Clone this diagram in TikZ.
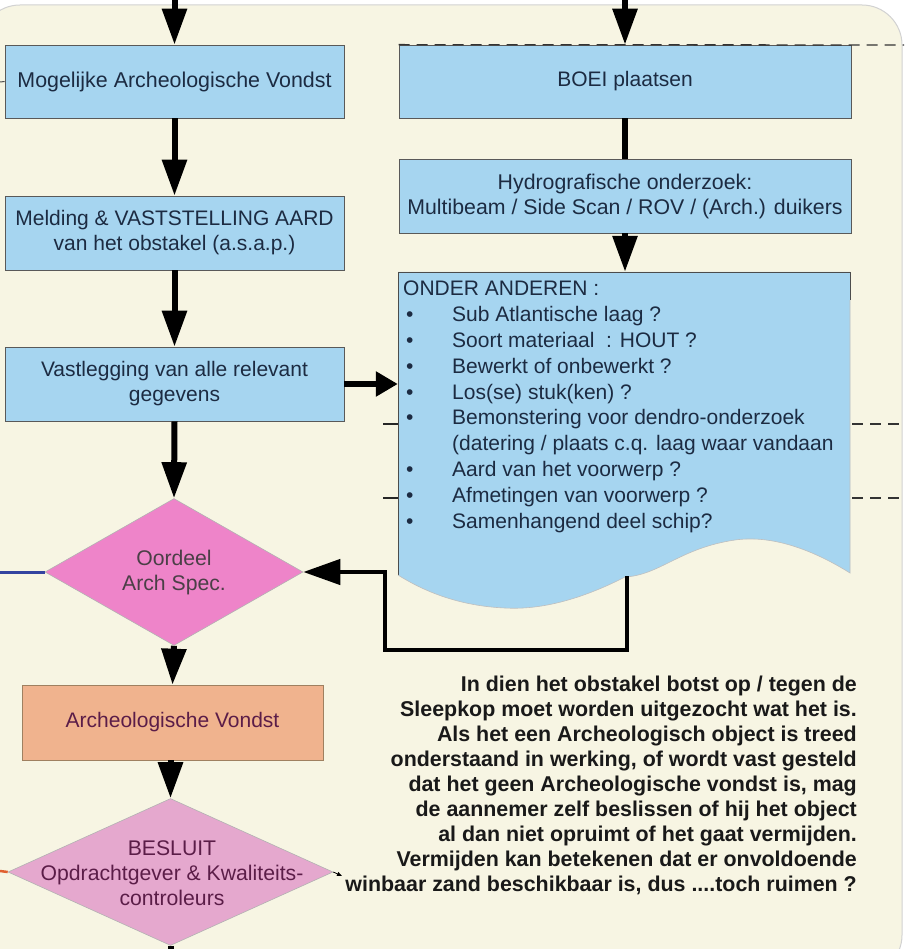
\documentclass[tikz,border=0pt]{standalone}
\usepackage{fontspec}
\setmainfont{Liberation Sans}
\usetikzlibrary{shapes.geometric,arrows.meta}
\definecolor{cream}{HTML}{F7F5E3}
\definecolor{boxblue}{HTML}{A6D5F0}
\definecolor{pinkA}{HTML}{EE84C9}
\definecolor{pinkB}{HTML}{E5A8CE}
\definecolor{salmon}{HTML}{F0B38E}
\definecolor{navytext}{HTML}{1C2B42}
\definecolor{purpletext}{HTML}{5B1D48}
\definecolor{greytext}{HTML}{4A3F46}
\definecolor{leftblue}{HTML}{3344A0}
\definecolor{leftorange}{HTML}{E06030}
\tikzset{
  bluebox/.style={draw=gray!70!black, line width=0.7pt, fill=boxblue, minimum width=339pt, minimum height=74pt, inner sep=0pt, align=center, text=navytext, font=\fontsize{21}{25}\selectfont},
  widebox/.style={bluebox, minimum width=452pt},
  arr/.style={line width=6pt, -{Triangle[width=24pt,length=36pt]}},
  shortarr/.style={line width=6pt, -{Triangle[width=24pt,length=22pt]}},
  plainline/.style={line width=6pt},
  dia/.style={shape=diamond, draw=gray!60, line width=0.6pt, inner sep=0pt},
  diatext/.style={align=center, font=\fontsize{21.2}{25}\selectfont, inner sep=0pt},
  ticks/.style={line width=1.3pt, draw=gray!40!black, dash pattern=on 11pt off 7pt}
}
\begin{document}
\begin{tikzpicture}[x=1pt,y=-1pt]
\useasboundingbox (0,0) rectangle (904,949);
\fill[white] (0,0) rectangle (904,949);
\draw[fill=cream, draw=gray!35, line width=1pt, rounded corners=40pt] (-20,5) rectangle (902,975);

% left column
\node[bluebox, minimum height=73pt, font=\fontsize{21.4}{25}\selectfont] (b1) at (174.5,81.5) {Mogelijke Archeologische Vondst};
\node[bluebox] (b4) at (174.5,233) {Melding \& VASTSTELLING AARD\\van het obstakel (a.s.a.p.)};
\node[bluebox] (b5) at (174.5,384) {Vastlegging van alle relevant\\gegevens};
\node[dia, fill=pinkA, minimum width=258pt, minimum height=147pt] (d1) at (174,572) {};
\node[diatext, text=greytext] (d1t) at (174,573) {Oordeel\\Arch Spec.};
\node[draw=gray!50!brown, line width=0.6pt, fill=salmon, minimum width=301pt, minimum height=75pt, inner sep=0pt, text=purpletext, font=\fontsize{21}{25}\selectfont] (b6) at (172.5,722.5) {Archeologische Vondst};
\node[dia, fill=pinkB, minimum width=325pt, minimum height=147pt] (d2) at (170.5,872) {};
\node[diatext, text=purpletext] (d2t) at (172,873) {BESLUIT\\Opdrachtgever \& Kwaliteits-\\controleurs};

% right column
\node[widebox, minimum height=73pt] (b2) at (625,81.5) {BOEI plaatsen};
\node[widebox, font=\fontsize{21.3}{25}\selectfont] (b3) at (625,196) {Hydrografische onderzoek:\\Multibeam / Side Scan / ROV / (Arch.) duikers};
\node[minimum width=452pt, minimum height=302pt, inner sep=0pt] (doc) at (624,423) {};
\fill[boxblue] (398,272) -- (850,272) -- (850,573)
  .. controls (810,548) and (770,535) .. (735,540)
  .. controls (680,548) and (660,575) .. (625,577)
  .. controls (580,600) and (540,610) .. (505,608)
  .. controls (460,606) and (425,592) .. (398,575) -- cycle;
\draw[gray!60!black, line width=0.8pt] (398,575) -- (398,272) -- (850,272) -- (850,300);
\draw[gray!50, line width=0.6pt] (398,575)
  .. controls (425,592) and (460,606) .. (505,608)
  .. controls (540,610) and (580,600) .. (625,577)
  .. controls (660,575) and (680,548) .. (735,540)
  .. controls (770,535) and (810,548) .. (850,573) -- (850,300);
\node[anchor=north west, inner sep=0pt, align=left, text=navytext, font=\fontsize{21}{25.8}\selectfont] (list) at (403,281) {%
ONDER ANDEREN :\\
\hspace*{3pt}\makebox[46pt][l]{•}Sub Atlantische laag ?\\
\hspace*{3pt}\makebox[46pt][l]{•}Soort materiaal\ \ : HOUT ?\\
\hspace*{3pt}\makebox[46pt][l]{•}Bewerkt of onbewerkt ?\\
\hspace*{3pt}\makebox[46pt][l]{•}Los(se) stuk(ken) ?\\
\hspace*{3pt}\makebox[46pt][l]{•}Bemonstering voor dendro-onderzoek\\
\hspace*{3pt}\makebox[46pt][l]{}(datering / plaats c.q. laag waar vandaan\\
\hspace*{3pt}\makebox[46pt][l]{•}Aard van het voorwerp ?\\
\hspace*{3pt}\makebox[46pt][l]{•}Afmetingen van voorwerp ?\\
\hspace*{3pt}\makebox[46pt][l]{•}Samenhangend deel schip?};

% paragraph
\node[anchor=north east, inner sep=0pt, align=right, text=black!90, font=\bfseries\fontsize{21.4}{25}\selectfont] (para) at (857,676) {%
In dien het obstakel botst op / tegen de\\
Sleepkop moet worden uitgezocht wat het is.\\
Als het een Archeologisch object is treed\\
onderstaand in werking, of wordt vast gesteld\\
dat het geen Archeologische vondst is, mag\\
de aannemer zelf beslissen of hij het object\\
al dan niet opruimt of het gaat vermijden.\\
Vermijden kan betekenen dat er onvoldoende\\
winbaar zand beschikbaar is, dus ....toch ruimen ?};

% coordinates for free ends
\coordinate (t1) at (174.5,0);
\coordinate (t2) at (625,0);
\coordinate (bot) at (170.5,949);
\coordinate (fb1) at (627,576);
\coordinate (fb2) at (627,650);
\coordinate (fb3) at (385,650);
\coordinate (lb) at (0,572);
\coordinate (lo) at (0,871);
\coordinate (l1) at (0,82);
\coordinate (pa) at (342,876);

% connectors
\draw[arr] (t1) -- (b1.north);
\draw[arr] (t2) -- (b2.north);
\draw[arr] (b1.south) -- (b4.north);
\draw[arr] (b4.south) -- (b5.north);
\draw[arr] (b5.south) -- (d1.north);
\draw[arr] (d1.south) -- (b6.north);
\draw[arr] ([xshift=-2pt]b6.south) -- (d2.north);
\draw[plainline] (d2.south) -- (bot);
\draw[plainline] (b2.south) -- (b3.north);
\draw[arr] (b3.south) -- (doc.north -| b3.south);
\draw[shortarr] (b5.east) -- (b5.east -| doc.west);
\draw[line width=4.5pt, -{Triangle[width=25pt,length=37pt]}] (fb1) -- (fb2) -- (fb3) -- (fb3 |- d1.east) -- (d1.east);
\draw[leftblue, line width=3pt] (lb) -- (d1.west);
\draw[leftorange, line width=2.5pt] (lo) -- (d2.west);
\draw[gray!60!black, line width=1pt] (l1) -- (b1.west);
\draw[line width=0.8pt, -{Triangle[width=4pt,length=5pt]}] (d2.east) -- (pa);

% dashed stubs on the right and ticks on the left
\draw[ticks] (b2.north west) -- (904,45);
\draw[ticks] (852,424) -- (904,424);
\draw[ticks] (852,498) -- (904,498);
\draw[line width=1.5pt, gray!30!black] (383,424) -- (398,424);
\draw[line width=1.5pt, gray!30!black] (383,498) -- (398,498);
\end{tikzpicture}
\end{document}
